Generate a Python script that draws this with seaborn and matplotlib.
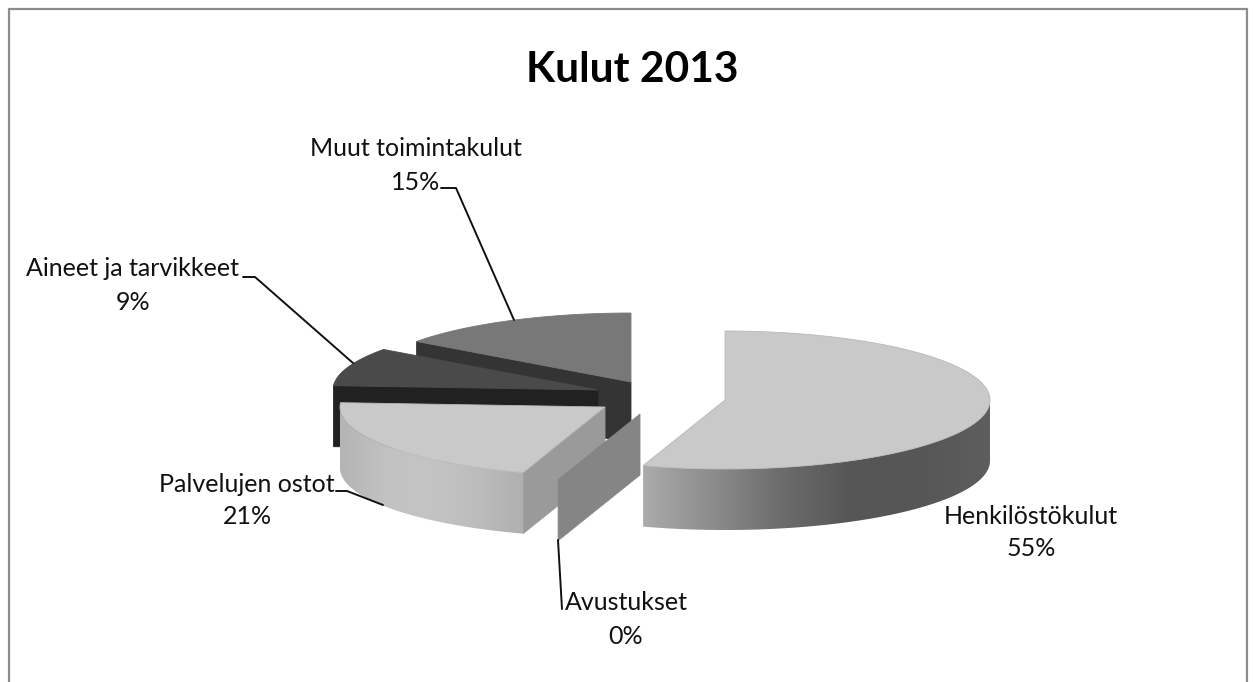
import numpy as np
import matplotlib
matplotlib.use("Agg")
import matplotlib.pyplot as plt
import seaborn as sns
from matplotlib.patches import Polygon
from matplotlib.lines import Line2D

categories = ["Henkilöstökulut", "Avustukset", "Palvelujen ostot", "Aineet ja tarvikkeet", "Muut toimintakulut"]
shares = [55, 0, 21, 9, 15]
title = "Kulut 2013"

# styling (pixel layout of the exploded pseudo-3D pie)
apex_x = [725, 640, 605, 598, 631]
apex_y = [400, 414, 407, 390, 382]
RX, RY, DEPTH = 265, 69, 61
top_col = ["#c9c9c9", "#858585", "#c9c9c9", "#4a4a4a", "#787878"]
wall_col = ["#8a8a8a", "#858585", "#9a9a9a", "#212121", "#343434"]
side_grad = [["#ababab", "#8c8c8c", "#6c6c6c", "#565656", "#565656", "#5e5e5e"],
             None,
             ["#b4b4b4", "#c2c2c2", "#c4c4c4", "#bcbcbc", "#b0b0b0"],
             None, None]
draw_order = [4, 3, 2, 1, 0]
label_xy = [(1031, 516), (626, 602), (247, 484), (133, 269), (416, 149)]
pct_xy = [(1031, 549), (626, 636), (247, 517), (133, 302), (416, 182)]
leaders = [None,
           [(558, 540), (562, 609)],
           [(336, 491), (347, 491), (383, 505)],
           [(243, 277), (255, 277), (353, 363)],
           [(441, 188), (456, 188), (514, 320)]]

sns.set_theme(style="white")
plt.rcParams["font.family"] = ["Lato", "DejaVu Sans"]

fig = plt.figure(figsize=(12.56, 6.82), dpi=100, facecolor="white")
ax = fig.add_axes([0, 0, 1, 1])
ax.set_xlim(0, 1256)
ax.set_ylim(682, 0)
ax.axis("off")

ax.plot([9, 9, 1247, 1247], [690, 9, 9, 690], color="#8c8c8c", lw=1.6, zorder=1)


def pt(cx, cy, a):
    return cx + RX * np.sin(a), cy - RY * np.cos(a)


edges = np.deg2rad(np.concatenate([[0], np.cumsum(shares)]) * 3.6)
z = 10
for i in draw_order:
    a0, a1 = edges[i], edges[i + 1]
    cx, cy = apex_x[i], apex_y[i]
    # radial walls facing the viewer
    for a, normal in ((a0, a0 - np.pi / 2), (a1, a1 + np.pi / 2)):
        if np.cos(normal) < -0.01:
            ex, ey = pt(cx, cy, a)
            ax.add_patch(Polygon([(cx, cy), (ex, ey), (ex, ey + DEPTH), (cx, cy + DEPTH)],
                                 closed=True, fc=wall_col[i], ec=wall_col[i], lw=0.6, zorder=z))
            z += 1
    # outer rim, front half only
    lo, hi = max(a0, np.pi / 2), min(a1, 3 * np.pi / 2)
    if hi > lo and side_grad[i] is not None:
        t = np.linspace(lo, hi, 200)
        xs, ys = pt(cx, cy, t)
        verts = np.r_[np.c_[xs, ys], np.c_[xs, ys + DEPTH][::-1]]
        poly = Polygon(verts, closed=True, fc="none", ec="none", transform=ax.transData)
        ax.add_patch(poly)
        cmap = sns.blend_palette(side_grad[i], as_cmap=True)
        grad = np.linspace(0, 1, 256)[None, :]
        im = ax.imshow(grad, cmap=cmap, aspect="auto", zorder=z,
                       extent=(xs.min(), xs.max(), ys.max() + DEPTH, ys.min()),
                       interpolation="bilinear")
        im.set_clip_path(poly)
        z += 1
    # top face
    if a1 > a0:
        t = np.linspace(a0, a1, 200)
        xs, ys = pt(cx, cy, t)
        ax.add_patch(Polygon(np.r_[[(cx, cy)], np.c_[xs, ys]], closed=True,
                             fc=top_col[i], ec="#b8b8b8" if top_col[i] == "#c9c9c9" else top_col[i],
                             lw=0.6, zorder=z))
        z += 1
ax.set_xlim(0, 1256)
ax.set_ylim(682, 0)

for pts in leaders:
    if pts:
        p = np.array(pts)
        ax.add_line(Line2D(p[:, 0], p[:, 1], color="#111111", lw=1.4, zorder=50))

ax.text(632, 70, title, ha="center", va="center", fontsize=30.6, fontweight="bold", color="black", zorder=60)
for name, v, lxy, pxy in zip(categories, shares, label_xy, pct_xy):
    ax.text(*lxy, name, ha="center", va="center", fontsize=18, color="#111111", zorder=60)
    ax.text(*pxy, f"{v}%", ha="center", va="center", fontsize=18, color="#111111", zorder=60)

fig.savefig("out.png", dpi=100, facecolor="white")
